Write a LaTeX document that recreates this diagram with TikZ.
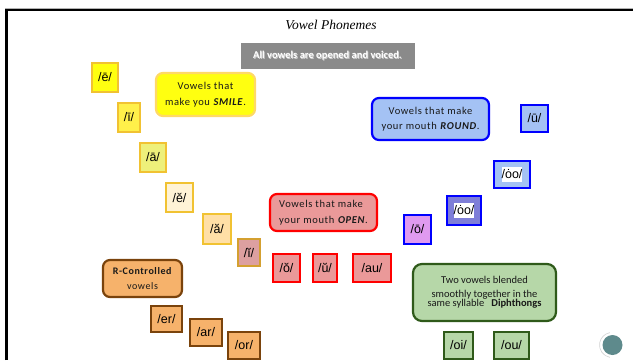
\documentclass[tikz,border=0pt]{standalone}
\usepackage{fontspec}
\setmainfont{Liberation Sans}
\newfontfamily\boxfont{Carlito}
\newfontfamily\spacedfont[LetterSpace=6]{Carlito}
\newfontfamily\titlefont{Liberation Serif}
\newfontfamily\phonfont{Liberation Sans}
\definecolor{gold}{HTML}{F1C232}
\definecolor{goldd}{HTML}{D4A030}
\definecolor{ye1}{HTML}{FFFF10}
\definecolor{ye2}{HTML}{FFF04A}
\definecolor{ye3}{HTML}{EEF07A}
\definecolor{cream}{HTML}{FFF3D6}
\definecolor{peach}{HTML}{FFDFA6}
\definecolor{pinkish}{HTML}{DDA0A0}
\definecolor{redfill}{HTML}{EA9999}
\definecolor{bluefill}{HTML}{A4C2F4}
\definecolor{purplefill}{HTML}{7E7ED8}
\definecolor{violetfill}{HTML}{E09AF0}
\definecolor{orangefill}{HTML}{F6B26B}
\definecolor{brownline}{HTML}{7A430C}
\definecolor{greenfill}{HTML}{B6D7A8}
\definecolor{greenline}{HTML}{2F5A1A}
\definecolor{smileline}{HTML}{FFD966}
\definecolor{bannergray}{HTML}{8A8A8A}
\definecolor{dotfill}{HTML}{5E8A8C}
\begin{document}
\begin{tikzpicture}[x=1pt,y=-1pt,
  phon/.style={rectangle, line width=2.2pt, inner sep=0pt, font=\phonfont\fontsize{12.5}{14}\selectfont, text=black},
  talk/.style={rectangle, rounded corners=7pt, line width=2.2pt, inner sep=2pt, font=\spacedfont\fontsize{10.5}{15.5}\selectfont, text=black!90}
]
\useasboundingbox (0,0) rectangle (633,360);
\fill[white] (0,0) rectangle (633,360);
% frame
\draw[gray!60, line width=0.8pt] (5,8.2) -- (633,8.2);
\draw[black, line width=2.4pt] (6.5,360) -- (6.5,10) -- (633,10);
% title
\node (title) at (331,25) {\titlefont\itshape\fontsize{13.5}{15}\selectfont Vowel Phonemes};
\node[fill=bannergray, minimum width=174, minimum height=26, inner sep=0pt] (banner) at (327.5,56) {};
\node[text=gray!40] at (328.3,56.8) {\boxfont\bfseries\fontsize{10.5}{12}\selectfont All vowels are opened and voiced.};
\node[text=white] (bannertext) at (327.5,56) {\boxfont\bfseries\fontsize{10.5}{12}\selectfont All vowels are opened and voiced.};
% smile group
\node[talk, fill=ye1, draw=smileline, minimum width=99, minimum height=43, align=center] (smile) at (205.5,94.5) {Vowels that\\make you \textbf{\textit{SMILE}}.};
\node[phon, fill=ye1, draw=gold, minimum width=26, minimum height=29] (e1) at (105,77.5) {/ē/};
\node[phon, fill=ye2, draw=gold, minimum width=22, minimum height=29] (i1) at (129,117.5) {/ī/};
\node[phon, fill=ye3, draw=gold, minimum width=26, minimum height=29] (a1) at (153,157.5) {/ā/};
\node[phon, fill=cream, draw=gold, minimum width=27, minimum height=29] (e2) at (179.5,197.5) {/ĕ/};
\node[phon, fill=peach, draw=gold, minimum width=28, minimum height=30] (a2) at (217,229) {/ă/};
\node[phon, fill=pinkish, draw=goldd, minimum width=22, minimum height=27] (i2) at (249,252.5) {/ĭ/};
% open group
\node[talk, fill=redfill, draw=red, minimum width=107, minimum height=37, align=left, font=\spacedfont\fontsize{10.5}{16.5}\selectfont] (open) at (323.5,212.5) {Vowels that make\\your mouth \textbf{\textit{OPEN}}.};
\node[phon, fill=redfill, draw=red, minimum width=27, minimum height=28] (o2) at (286.5,268) {/ŏ/};
\node[phon, fill=redfill, draw=red, minimum width=24, minimum height=28] (u2) at (325,268) {/ŭ/};
\node[phon, fill=redfill, draw=red, minimum width=38, minimum height=28] (au) at (372,268) {/au/};
% round group
\node[talk, fill=bluefill, draw=blue, minimum width=117, minimum height=42, align=center] (round) at (430.5,119) {Vowels that make\\your mouth \textbf{\textit{ROUND}}.};
\node[phon, fill=bluefill, draw=blue, minimum width=27, minimum height=27] (u1) at (534.5,118.5) {/ū/};
\node[phon, fill=bluefill, draw=blue, minimum width=36, minimum height=27] (oo1) at (512,174.5) {\colorbox{white}{\kern-3pt/ȯo/\kern-3pt}};
\node[phon, fill=purplefill, draw=blue, minimum width=34, minimum height=29] (oo2) at (464,210.5) {\colorbox{white}{\kern-3pt/ȯo/\kern-3pt}};
\node[phon, fill=violetfill, draw=blue, minimum width=27, minimum height=29] (o1) at (417.5,229.5) {/ō/};
% r-controlled
\node[talk, fill=orangefill, draw=brownline, minimum width=79, minimum height=37, align=center, font=\spacedfont\fontsize{10}{15.5}\selectfont] (rc) at (142.5,278.5) {\textbf{R-Controlled}\\vowels};
\node[phon, fill=orangefill, draw=brownline, minimum width=31, minimum height=26] (er) at (166.5,319) {/er/};
\node[phon, fill=orangefill, draw=brownline, minimum width=32, minimum height=27] (ar) at (206,332.5) {/ar/};
\node[phon, fill=orangefill, draw=brownline, minimum width=32, minimum height=27] (or) at (244,345.5) {/or/};
% diphthongs
\node[talk, fill=greenfill, draw=greenline, minimum width=143, minimum height=57, align=center, rounded corners=9pt, font=\boxfont\fontsize{10.5}{11.5}\selectfont] (diph) at (484.5,292.5) {Two vowels blended\\[2.5pt]smoothly together in the\\[-2.5pt]same syllable\ \ \ \textbf{Diphthongs}};
\node[phon, fill=greenfill, draw=greenline, minimum width=29, minimum height=27] (oi) at (458.5,345.5) {/oi/};
\node[phon, fill=greenfill, draw=greenline, minimum width=35, minimum height=27] (ou) at (511.5,345.5) {/ou/};
% nav dot
\draw[gray!35, line width=0.6pt] (612,345) ++(100:12.5) arc[start angle=100, end angle=260, radius=12.5];
\node[circle, fill=dotfill, minimum size=20, inner sep=0pt] (dot) at (612.5,345) {};
\end{tikzpicture}
\end{document}
